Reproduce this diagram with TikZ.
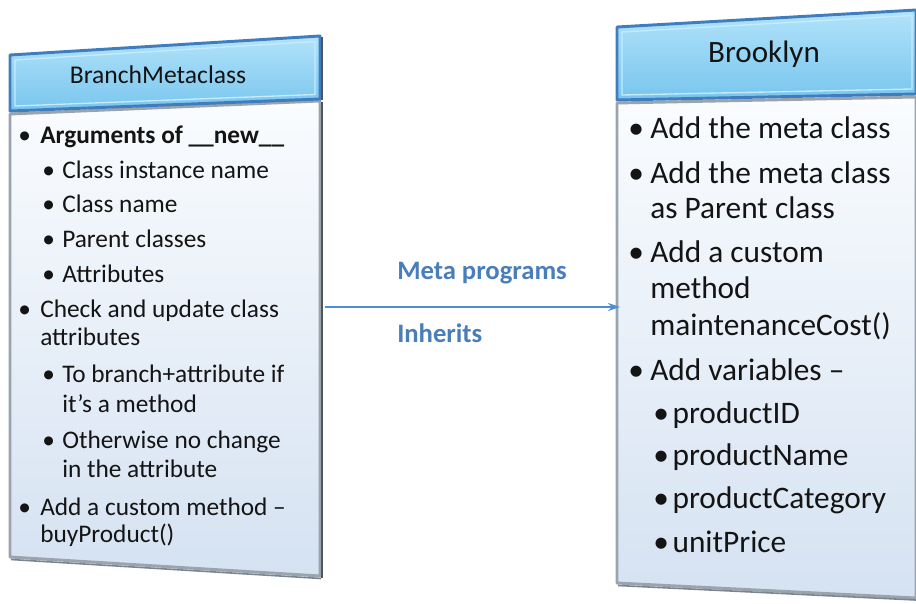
\documentclass[tikz,border=0pt]{standalone}
\usepackage{fontspec}
\setmainfont{Carlito}
\usetikzlibrary{arrows.meta}
\definecolor{hdrtop}{HTML}{B2E3FA}
\definecolor{hdrbot}{HTML}{78C5EE}
\definecolor{hdredge}{HTML}{3F7DBF}
\definecolor{hdrinner}{HTML}{C6ECFC}
\definecolor{bodytop}{HTML}{FAFCFE}
\definecolor{bodybot}{HTML}{D5E2F2}
\definecolor{bodyedge}{HTML}{9AA4AE}
\definecolor{shadowcol}{HTML}{4E555C}
\definecolor{txtcol}{HTML}{141414}
\definecolor{lblcol}{HTML}{4A7EBB}
\definecolor{arrcol}{HTML}{4E8FD6}
\newcommand{\bulLA}{\makebox[16.5pt][l]{\textbullet}}
\newcommand{\bulLB}{\makebox[15pt][l]{\textbullet}}
\newcommand{\bulRA}{\makebox[16.5pt][l]{\textbullet}}
\newcommand{\bulRB}{\makebox[14.5pt][l]{\textbullet}}
\begin{document}
\begin{tikzpicture}[x=0.75pt,y=-0.75pt,line join=round,
  hdrfill/.style={top color=hdrtop,bottom color=hdrbot},
  hdrline/.style={draw=hdredge,line width=2.2pt},
  bodyfill/.style={top color=bodytop,bottom color=bodybot},
  bodyline/.style={draw=bodyedge,line width=2.2pt},
  shadowline/.style={draw=shadowcol,line width=1.8pt},
  ltxt/.style={anchor=base west,inner sep=0pt,text=txtcol,font=\fontsize{19pt}{22pt}\selectfont},
  rtxt/.style={anchor=base west,inner sep=0pt,text=txtcol,font=\fontsize{23.5pt}{27pt}\selectfont},
  htxt/.style={inner sep=0pt,text=txtcol},
  lbl/.style={anchor=base west,inner sep=0pt,text=lblcol,font=\fontsize{20pt}{24pt}\selectfont\bfseries},
  conn/.style={draw=arrcol,line width=1.1pt,-{Stealth[length=9pt,width=6pt]}}]
\useasboundingbox (0,0) rectangle (916,603);
\fill[white] (0,0) rectangle (916,603);

% ---- left box ----
\shade[bodyfill] (10,114) -- (320,101) -- (320,576) -- (10,557) -- cycle;
\draw[bodyline] (10,114) -- (320,101) -- (320,576) -- (10,557) -- cycle;
\draw[shadowline] (322,102) -- (322,578);
\draw[draw=bodyedge!60!shadowcol,line width=1.2pt] (11,559.5) -- (321,578.5);
\shade[hdrfill] (10,55) -- (320,36) -- (320,99) -- (10,111) -- cycle;
\draw[draw=hdrinner,line width=1pt] (15,60) -- (315,41.5) -- (315,94.5) -- (15,106) -- cycle;
\draw[hdrline] (10,55) -- (320,36) -- (320,99) -- (10,111) -- cycle;
\draw[shadowline] (322,37) -- (322,100);
\node[htxt,font=\fontsize{19.2pt}{22pt}\selectfont] (lhead) at (158,75) {BranchMetaclass};

\node[ltxt] (l1)  at (18,143) {\bulLA\textbf{Arguments of \_\_new\_\_}};
\node[ltxt] (l2)  at (42,178) {\bulLB Class instance name};
\node[ltxt] (l3)  at (42,212) {\bulLB Class name};
\node[ltxt] (l4)  at (42,247) {\bulLB Parent classes};
\node[ltxt] (l5)  at (42,282) {\bulLB Attributes};
\node[ltxt] (l6)  at (18,317) {\bulLA Check and update class};
\node[ltxt] (l7)  at (40,345) {attributes};
\node[ltxt] (l8)  at (42,382) {\bulLB To branch+attribute if};
\node[ltxt] (l9)  at (62,412) {it’s a method};
\node[ltxt] (l10) at (42,448) {\bulLB Otherwise no change};
\node[ltxt] (l11) at (62,477) {in the attribute};
\node[ltxt] (l12) at (18,515) {\bulLA Add a custom method –};
\node[ltxt] (l13) at (40,542) {buyProduct()};

% ---- right box ----
\shade[bodyfill] (617,103) -- (916,97) -- (916,598) -- (617,583) -- cycle;
\draw[bodyline] (617,103) -- (916,97) -- (916,598) -- (617,583) -- cycle;
\draw[draw=bodyedge!60!shadowcol,line width=1.2pt] (618,585.5) -- (916,600);
\shade[hdrfill] (617,27) -- (916,10) -- (916,94) -- (617,100) -- cycle;
\draw[draw=hdrinner,line width=1pt] (622,32) -- (912,15.5) -- (912,89) -- (622,95) -- cycle;
\draw[hdrline] (617,27) -- (916,10) -- (916,94) -- (617,100) -- cycle;
\node[htxt,font=\fontsize{23.3pt}{27pt}\selectfont] (rhead) at (764,54) {Brooklyn};

\node[rtxt] (r1)  at (628,138) {\bulRA Add the meta class};
\node[rtxt] (r2)  at (628,183) {\bulRA Add the meta class};
\node[rtxt] (r3)  at (650,218) {as Parent class};
\node[rtxt] (r4)  at (628,262) {\bulRA Add a custom};
\node[rtxt] (r5)  at (650,298) {method};
\node[rtxt] (r6)  at (650,335) {maintenanceCost()};
\node[rtxt] (r7)  at (628,380) {\bulRA Add variables –};
\node[rtxt] (r8)  at (653,423) {\bulRB productID};
\node[rtxt] (r9)  at (653,465) {\bulRB productName};
\node[rtxt] (r10) at (653,508) {\bulRB productCategory};
\node[rtxt] (r11) at (653,552) {\bulRB unitPrice};

% ---- connector ----
\coordinate (lout) at (325,307);
\coordinate (rin) at (620,307);
\draw[conn] (lout) -- (rin);
\node[lbl] (meta) at (397,279) {Meta programs};
\node[lbl] (inh) at (397,342) {Inherits};
\end{tikzpicture}
\end{document}
